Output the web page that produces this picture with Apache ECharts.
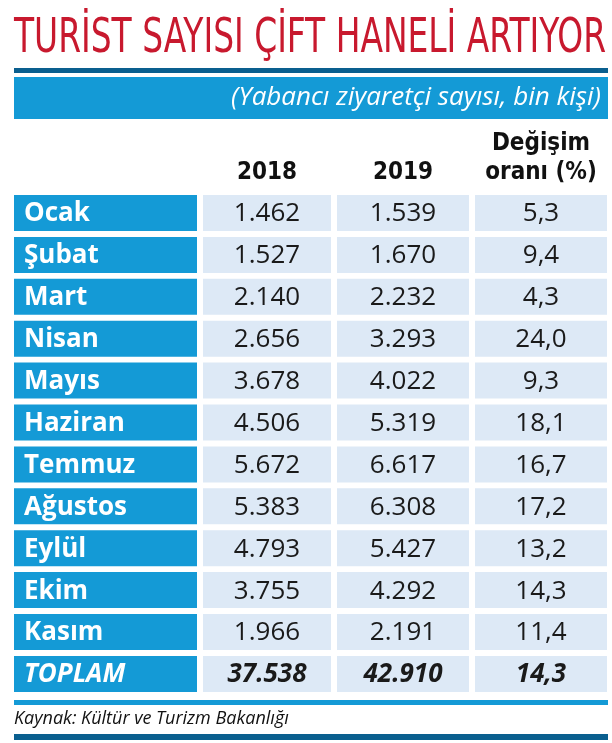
<!DOCTYPE html>
<html><head><meta charset="utf-8">
<script src="https://cdn.jsdelivr.net/npm/echarts@6/dist/echarts.min.js"></script>
<style>html,body{margin:0;padding:0;background:#fff}#main{width:612px;height:743px}</style>
</head><body><div id="main"></div>
<script>
var months = ['Ocak', 'Şubat', 'Mart', 'Nisan', 'Mayıs', 'Haziran', 'Temmuz', 'Ağustos', 'Eylül', 'Ekim', 'Kasım'];
var v2018 = ['1.462', '1.527', '2.140', '2.656', '3.678', '4.506', '5.672', '5.383', '4.793', '3.755', '1.966'];
var v2019 = ['1.539', '1.670', '2.232', '3.293', '4.022', '5.319', '6.617', '6.308', '5.427', '4.292', '2.191'];
var change = ['5,3', '9,4', '4,3', '24,0', '9,3', '18,1', '16,7', '17,2', '13,2', '14,3', '11,4'];
var total = ['TOPLAM', '37.538', '42.910', '14,3'];
var headers = ['2018', '2019', 'Değişim\noranı (%)'];

var BLUE = '#149ad6', LIGHT = '#dde9f6', DARK = '#0a5f8f', RED = '#c8192e';
var colX = [[14, 197], [203, 331], [337, 469], [475, 607]];
var rowTop = 195, rowStep = 41.9, rowH = 36;

// fit title width
function fitScale(txt, font, w) {
	var c = document.createElement('canvas').getContext('2d');
	c.font = font;
	return w / c.measureText(txt).width;
}
var titleText = 'TURİST SAYISI ÇİFT HANELİ ARTIYOR';
var titleFont = '500 48px "DejaVu Sans Condensed"';
var sx = fitScale(titleText, titleFont, 592);

var g = [];
g.push({type: 'text', x: 14, y: 64, scaleX: sx, style: {text: titleText, fill: RED, font: titleFont, textVerticalAlign: 'bottom'}});
g.push({type: 'rect', shape: {x: 14, y: 68, width: 594, height: 5}, style: {fill: DARK}});
g.push({type: 'rect', shape: {x: 14, y: 77, width: 594, height: 42}, style: {fill: BLUE}});
g.push({type: 'text', x: 601, y: 98, style: {text: '(Yabancı ziyaretçi sayısı, bin kişi)', fill: '#fff', font: 'italic 26px "Open Sans"', textAlign: 'right', textVerticalAlign: 'middle'}});

headers.forEach(function(h, i) {
	var c = colX[i + 1];
	g.push({type: 'text', x: (c[0] + c[1]) / 2, y: 187, style: {text: h, fill: '#111', font: 'bold 24px "DejaVu Sans Condensed"', textAlign: 'center', textVerticalAlign: 'bottom', lineHeight: 29}});
});

function addRow(r, cells, isTotal) {
	var y = rowTop + r * rowStep;
	cells.forEach(function(t, i) {
		var c = colX[i];
		g.push({type: 'rect', shape: {x: c[0], y: y, width: c[1] - c[0], height: rowH}, style: {fill: i === 0 ? BLUE : LIGHT}});
		var fs = isTotal ? 'italic bold ' : (i === 0 ? 'bold ' : '');
		g.push({type: 'text', x: i === 0 ? c[0] + 10 : (c[0] + c[1]) / 2, y: y + rowH / 2 + 1,
			style: {text: t, fill: i === 0 ? '#fff' : '#1a1a1a', font: fs + '26px "Open Sans"',
				textAlign: i === 0 ? 'left' : 'center', textVerticalAlign: 'middle'}});
	});
}
months.forEach(function(m, r) { addRow(r, [m, v2018[r], v2019[r], change[r]], false); });
addRow(months.length, total, true);

g.push({type: 'rect', shape: {x: 14, y: 700, width: 594, height: 5}, style: {fill: BLUE}});
g.push({type: 'text', x: 14, y: 719, style: {text: 'Kaynak: Kültür ve Turizm Bakanlığı', fill: '#111', font: 'italic 18px "Open Sans"', textVerticalAlign: 'middle'}});
g.push({type: 'rect', shape: {x: 14, y: 734, width: 594, height: 6}, style: {fill: DARK}});

var chart = echarts.init(document.getElementById('main'));
chart.setOption({animation: false, graphic: g});
</script></body></html>
